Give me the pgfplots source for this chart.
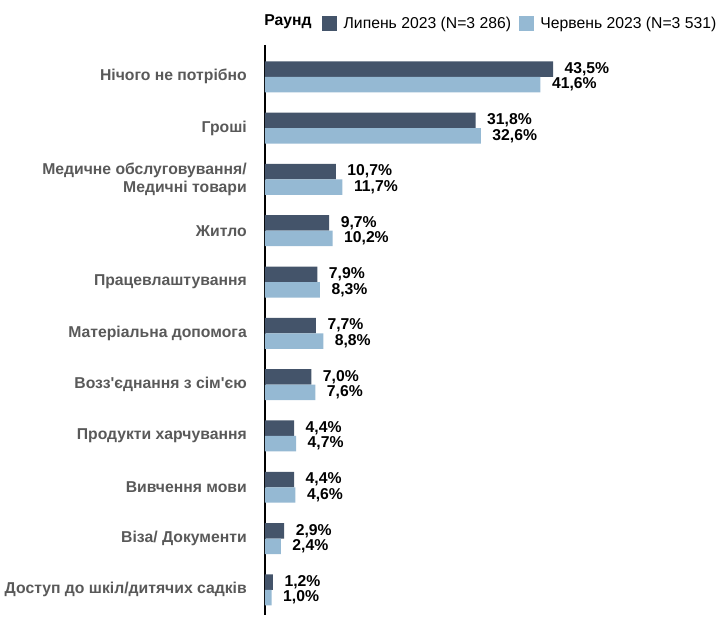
\documentclass[border=0pt]{standalone}
\usepackage{pgfplots}
\pgfplotsset{compat=1.18}
\usepackage{fontspec}
\setmainfont{Liberation Sans}
\definecolor{darkbar}{HTML}{44546A}
\definecolor{lightbar}{HTML}{95B9D3}
\definecolor{labgray}{HTML}{595959}
\pgfplotstableread{
y val
-0.151 43.5
0.849 31.8
1.849 10.7
2.849 9.7
3.849 7.9
4.849 7.7
5.849 7.0
6.849 4.4
7.849 4.4
8.849 2.9
9.849 1.2
}\julydata
\pgfplotstableread{
y val
0.151 41.6
1.151 32.6
2.151 11.7
3.151 10.2
4.151 8.3
5.151 8.8
6.151 7.6
7.151 4.7
8.151 4.6
9.151 2.4
10.151 1.0
}\junedata
\begin{document}
\begin{tikzpicture}[x=1pt,y=1pt]
\begin{axis}[
  at={(0,0)}, anchor=south west,
  scale only axis,
  width=327.75pt, height=427.5pt,
  xmin=0, xmax=66,
  ymin=-0.62, ymax=10.49,
  y dir=reverse,
  axis x line=none,
  axis y line*=left,
  axis line style={black, line width=0.9pt},
  xbar, bar shift=0pt, bar width=0.302,
  ytick={0,...,10},
  major tick length=0pt,
  yticklabels={Нічого не потрібно, Гроші, {Медичне обслуговування/\\Медичні товари}, Житло, Працевлаштування, Матеріальна допомога, Возз\textquotesingle єднання з сім\textquotesingle єю, Продукти харчування, Вивчення мови, Віза/ Документи, Доступ до шкіл/дитячих садків},
  yticklabel style={font=\fontsize{11.8}{13.5}\selectfont\bfseries, text=labgray, align=right, inner sep=0pt, xshift=-13.5pt},
  nodes near coords={\pgfmathprintnumber[fixed, fixed zerofill, precision=1, use comma]{\pgfplotspointmeta}\%},
  nodes near coords style={font=\fontsize{11.8}{13.5}\selectfont\bfseries, text=black, anchor=west, inner sep=0pt, xshift=8.5pt},
  /pgf/number format/assume math mode=true,
  point meta=x,
  clip=false,
  legend style={draw=none, fill=none, at={(0.130,1.038)}, anchor=west, legend columns=-1, font=\fontsize{11.8}{13.5}\selectfont, inner sep=0pt, /tikz/every odd column/.append style={column sep=3pt}, /tikz/every even column/.append style={column sep=3.8pt}},
  legend image code/.code={\fill[#1] (0pt,-5.6pt) rectangle (11.2pt,5.6pt);},
]
\addplot[fill=darkbar, draw=none] table[x=val, y=y] {\julydata};
\addplot[fill=lightbar, draw=none] table[x=val, y=y] {\junedata};
\legend{Липень 2023 (N=3 286), Червень 2023 (N=3 531)}
\node[anchor=east, inner sep=0pt, font=\fontsize{11.8}{13.5}\selectfont\bfseries] at (axis description cs:0.1075,1.040) {Раунд};
\end{axis}
\pgfresetboundingbox
\path[use as bounding box] (-198.75pt,-1.5pt) rectangle (339.75pt,461.25pt);
\end{tikzpicture}
\end{document}
